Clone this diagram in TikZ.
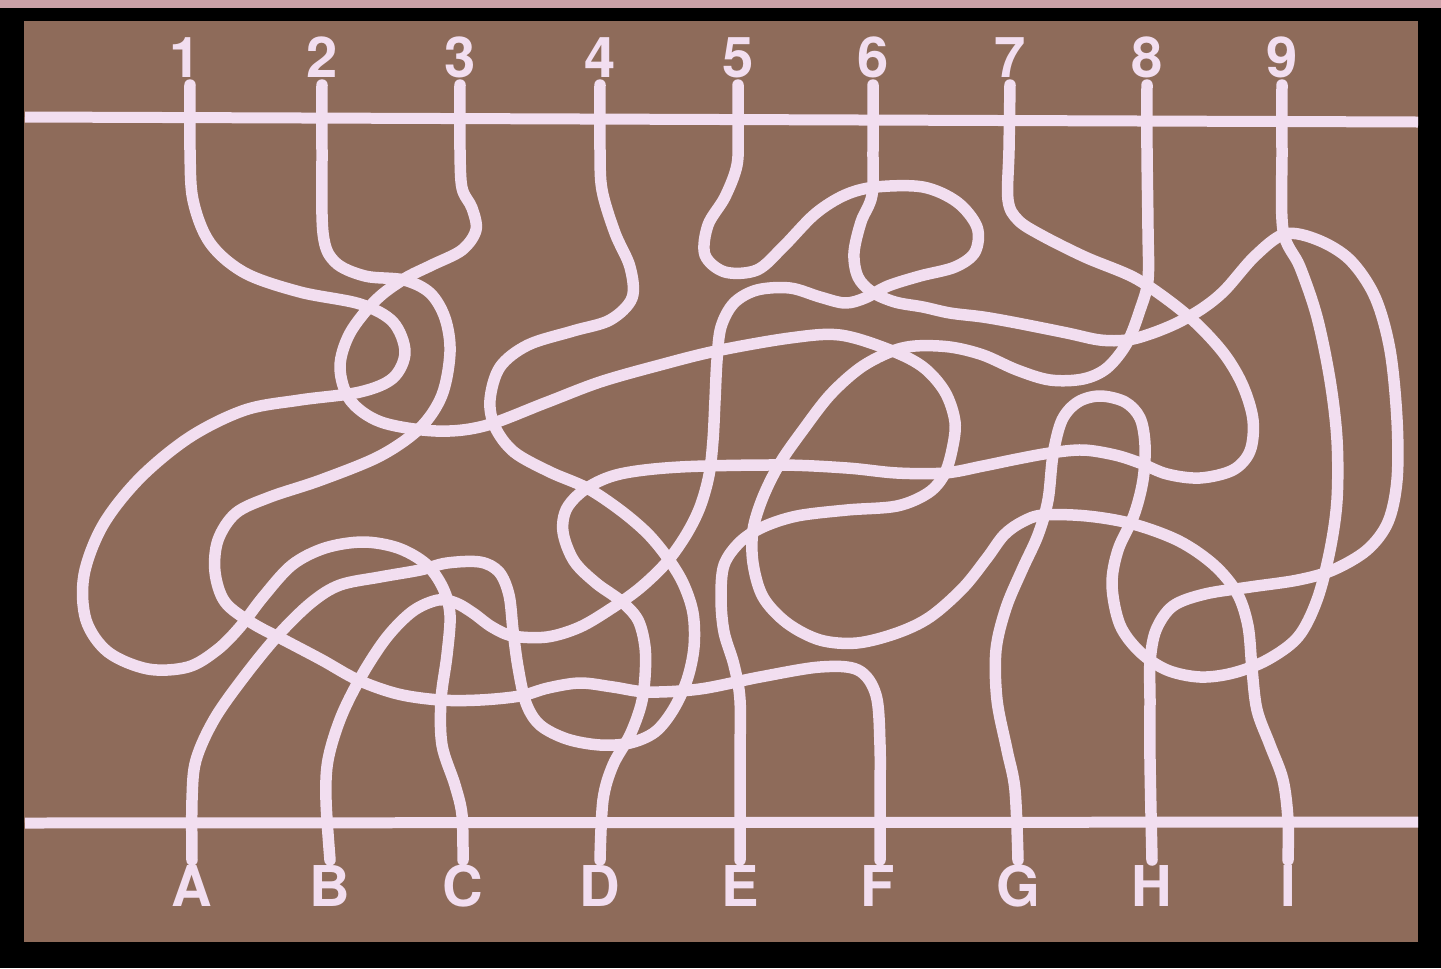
\documentclass[tikz,border=0pt]{standalone}
\usepackage{fontspec}
\setmainfont{TeX Gyre Heros}

\definecolor{board}{HTML}{8E6B5A}
\definecolor{chalk}{HTML}{F2DEF0}
\definecolor{rim}{HTML}{C9A0A6}

\begin{document}
\begin{tikzpicture}[x=0.02cm, y=-0.02cm,
    strand/.style={chalk, line width=0.23cm, line cap=round, line join=round},
    rail/.style={chalk, line width=0.22cm},
    tag/.style={chalk, anchor=base, inner sep=0pt, font=\fontsize{32}{34}\selectfont\bfseries}]

        % Frame and board
        \useasboundingbox (0,0) rectangle (1441,968);
        \fill[rim] (0,0) rectangle (1441,968);
        \fill[black] (0,8) rectangle (1441,968);
        \fill[board] (24,21) rectangle (1418,942);

        % Top and bottom rails
        \draw[rail] (25,117) -- (1418,122);
        \draw[rail] (25,823) -- (1418,822);

        % Labels
        \foreach \x/\t in {185/1, 322/2, 460/3, 600/4, 738/5, 873/6, 1010/7, 1147/8, 1282/9}
            \node[tag] (n\t) at (\x,77) {\t};
        \foreach \x/\t in {192/A, 330/B, 463/C, 600/D, 740/E, 878/F, 1018/G, 1152/H, 1288/I}
            \node[tag] (l\t) at (\x,906) {\t};

        % Strand 1 to C
        \draw[strand] plot[smooth, tension=0.55] coordinates {(190,85) (190,150) (193,200) (210,243)
            (245,273) (300,292) (360,304) (393,322) (405,352) (393,378) (360,392) (300,400) (245,410)
            (190,437) (140,478) (103,525) (84,575) (86,620) (108,652) (148,669) (188,667) (217,650)
            (240,627) (263,597) (292,565) (325,548) (363,542) (398,548) (426,564) (443,588) (450,615)
            (447,655) (441,700) (442,745) (455,785) (462,815) (463,860)};

        % Strand 2 to F
        \draw[strand] plot[smooth, tension=0.55] coordinates {(322,85) (322,150) (323,233) (335,262)
            (365,276) (404,280) (430,293) (445,318) (450,352) (442,395) (420,428) (380,456) (321,480)
            (270,497) (236,513) (218,540) (215,572) (225,602) (252,623) (286,641) (322,660) (358,680)
            (398,694) (440,700) (480,700) (520,696) (548,688) (580,683) (613,687) (648,692) (700,689)
            (760,677) (820,667) (858,670) (876,695) (880,745) (880,800) (880,860)};

        % Strand 3 to E
        \draw[strand] plot[smooth, tension=0.55] coordinates {(460,85) (460,150) (462,188) (472,208)
            (476,230) (462,250) (432,265) (404,279) (376,300) (350,333) (340,367) (350,400) (381,422)
            (436,431) (484,426) (545,403) (600,382) (660,365) (716,351) (790,338) (840,335) (890,350)
            (923,367) (945,392) (955,422) (952,450) (944,475) (928,493) (897,506) (847,510) (797,516)
            (763,527) (740,542) (724,565) (721,598) (724,632) (734,665) (740,700) (740,760) (740,860)};

        % Strand 4 to A
        \draw[strand] plot[smooth, tension=0.55] coordinates {(600,85) (600,150) (602,190) (615,233)
            (630,267) (632,298) (610,320) (573,331) (528,345) (500,367) (490,400) (495,427) (514,452)
            (550,472) (587,488) (620,510) (647,533) (667,557) (683,583) (693,613) (694,647) (687,680)
            (673,710) (655,732) (630,743) (600,745) (567,739) (540,725) (526,703) (518,667) (513,630)
            (509,595) (499,572) (480,562) (447,563) (420,570) (380,577) (340,585) (312,602) (280,633)
            (247,673) (215,718) (196,760) (192,800) (192,860)};

        % Strand 5 to B
        \draw[strand] plot[smooth, tension=0.55] coordinates {(738,85) (738,130) (737,165) (725,197)
            (708,225) (705,255) (725,272) (757,270) (783,247) (815,214) (845,195) (876,187) (923,187)
            (957,202) (977,227) (975,252) (955,267) (920,276) (888,286) (865,298) (845,303) (820,297)
            (790,288) (757,290) (734,303) (721,327) (717,360) (715,400) (713,440) (709,475) (700,507)
            (686,535) (666,563) (640,588) (612,608) (580,627) (547,637) (513,636) (492,627) (473,613)
            (456,603) (438,600) (413,611) (387,637) (362,675) (341,717) (328,760) (326,800) (330,860)};

        % Strand 6 to H
        \draw[strand] plot[smooth, tension=0.55] coordinates {(873,85) (873,150) (872,195) (861,222)
            (854,253) (858,277) (872,292) (895,302) (923,307) (950,313) (983,317) (1017,323) (1067,333)
            (1100,340) (1127,340) (1150,334) (1177,323) (1203,308) (1225,290) (1255,256) (1285,234)
            (1318,240) (1350,260) (1375,297) (1390,350) (1397,420) (1397,480) (1388,522) (1367,550)
            (1333,570) (1298,580) (1250,587) (1205,594) (1173,606) (1156,630) (1150,662) (1150,700)
            (1150,760) (1152,860)};

        % Strand 7 to D
        \draw[strand] plot[smooth, tension=0.55] coordinates {(1010,85) (1009,150) (1008,200) (1018,220)
            (1041,235) (1085,257) (1133,277) (1168,300) (1198,325) (1225,355) (1243,386) (1253,420)
            (1250,451) (1233,470) (1200,478) (1167,474) (1140,463) (1115,455) (1083,450) (1050,453)
            (1017,459) (983,466) (945,473) (897,473) (847,468) (780,465) (680,467) (620,474) (587,488)
            (567,508) (563,532) (574,561) (596,583) (621,601) (638,620) (645,647) (645,677) (641,705)
            (630,735) (613,765) (603,800) (600,860)};

        % Strand 8 to I
        \draw[strand] plot[smooth, tension=0.55] coordinates {(1147,85) (1147,150) (1148,230) (1148,280)
            (1140,310) (1127,343) (1107,368) (1083,379) (1050,380) (1017,370) (983,355) (950,347)
            (915,346) (890,352) (860,368) (830,395) (803,430) (780,463) (763,497) (753,530) (753,563)
            (763,597) (787,623) (820,640) (857,643) (897,633) (930,617) (963,588) (987,558) (1004,535)
            (1022,522) (1043,515) (1087,516) (1133,524) (1179,541) (1214,565) (1237,593) (1248,626)
            (1252,669) (1257,710) (1270,745) (1283,780) (1288,820) (1288,860)};

        % Strand 9 to G
        \draw[strand] plot[smooth, tension=0.55] coordinates {(1282,85) (1282,150) (1283,230) (1300,267)
            (1317,317) (1330,380) (1337,440) (1337,500) (1330,550) (1317,600) (1298,637) (1267,660)
            (1233,673) (1200,677) (1167,670) (1140,652) (1120,625) (1112,585) (1118,550) (1134,515)
            (1143,480) (1145,445) (1140,418) (1125,402) (1100,396) (1078,402) (1062,420) (1053,455)
            (1048,500) (1038,535) (1022,570) (1006,608) (996,650) (997,700) (1007,750) (1015,790)
            (1018,860)};
    \end{tikzpicture}
\end{document}
